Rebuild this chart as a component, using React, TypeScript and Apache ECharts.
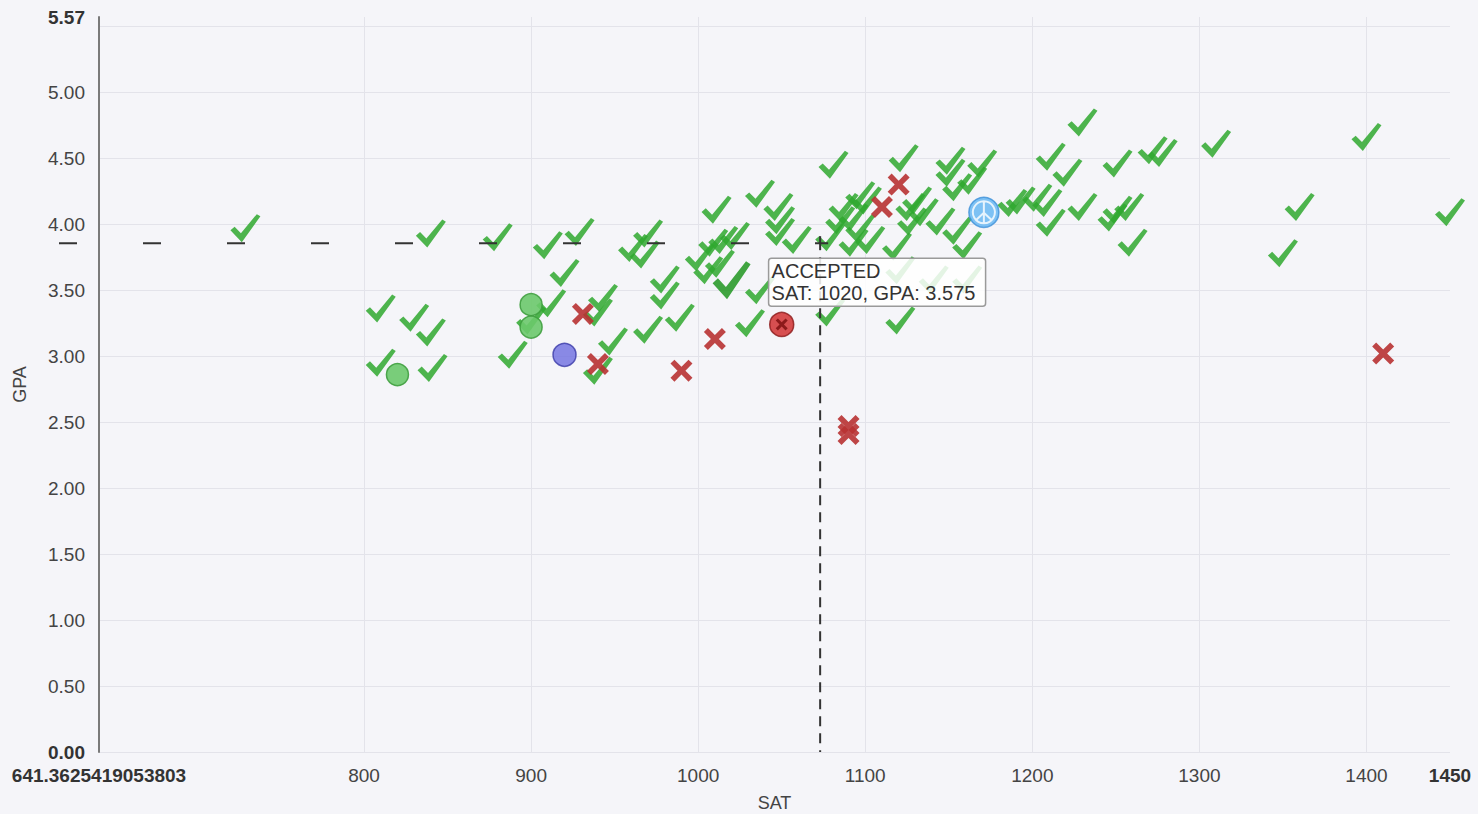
import React, { useEffect, useRef } from 'react';
import * as echarts from 'echarts';

const X_MIN = 641.3625419053803;
const X_MAX = 1450;
const Y_MIN = 0;
const Y_MAX = 5.57;
const xLabelValues = [641.3625419053803, 800, 900, 1000, 1100, 1200, 1300, 1400, 1450];
const xGridValues = [800, 900, 1000, 1100, 1200, 1300, 1400];
const yLabelValues = [0, 0.5, 1, 1.5, 2, 2.5, 3, 3.5, 4, 4.5, 5, 5.57];
const yGridValues = [0, 0.5, 1, 1.5, 2, 2.5, 3, 3.5, 4, 4.5, 5, 5.5];

const accepted: number[][] = [
  [729, 3.97], [840, 3.93], [880, 3.9], [910, 3.84], [929, 3.94], [920, 3.63],
  [810, 3.36], [830, 3.29], [840, 3.18], [810, 2.95], [841, 2.91], [889, 3.01],
  [912, 3.4], [900, 3.27], [943, 3.44], [940, 3.33], [949, 3.11], [940, 2.89],
  [970, 3.2], [989, 3.29], [980, 3.58], [980, 3.46], [961, 3.82], [970, 3.93], [968, 3.77],
  [1011, 4.11], [1001, 3.75], [1009, 3.86], [1015, 3.88], [1013, 3.7], [1022, 3.91], [1006, 3.65],
  [1037, 4.23], [1081, 4.45], [1048, 4.13], [1049, 4.03], [1049, 3.94], [1059, 3.88],
  [1123, 4.5], [1151, 4.48], [1170, 4.46], [1151, 4.39], [1155, 4.28], [1164, 4.33],
  [1087, 4.13], [1097, 4.22], [1093, 4.05], [1085, 4.03], [1097, 3.97], [1079, 3.9], [1093, 3.86], [1103, 3.88], [1119, 3.83],
  [1131, 4.18], [1135, 4.09], [1145, 4.02], [1155, 3.95], [1161, 3.84], [1188, 4.16],
  [1121, 3.27], [1079, 3.33], [1031, 3.25], [1037, 3.5], [1121, 3.65], [1141, 3.58], [1161, 3.58],
  [1101, 4.18], [1127, 4.13], [1128, 4.02],
  [1230, 4.77], [1211, 4.51], [1221, 4.39], [1193, 4.18], [1203, 4.2], [1209, 4.16], [1211, 4.01], [1230, 4.13],
  [1251, 4.46], [1272, 4.56], [1278, 4.54], [1310, 4.61], [1251, 4.11], [1258, 4.13], [1248, 4.05], [1260, 3.86],
  [1360, 4.13], [1350, 3.78], [1400, 4.66], [1450, 4.09],
];
const rejected: number[][] = [
  [931, 3.32], [940, 2.94], [990, 2.89], [1010, 3.13], [1090, 2.47], [1090, 2.41],
  [1110, 4.13], [1120, 4.3], [1410, 3.02],
];
const greenCircles: number[][] = [[900, 3.39], [900, 3.22], [820, 2.86]];
const blueCircles: number[][] = [[920, 3.01]];
const circledRejected: number[][] = [[1050, 3.24]];
const peacePoints: number[][] = [[1171, 4.09]];
const highlighted: number[][] = [[1020, 3.575]];
const crosshair = [1073, 3.856];
const tooltipLines = ['ACCEPTED', 'SAT: 1020, GPA: 3.575'];

const FONT = '"Liberation Sans", Arial, sans-serif';
const CHECK = 'path://M0,58 L14,45 L35,68 L88,0 L100,8 L38,100 Z';
const CROSS = 'path://M0,18 L18,0 L50,32 L82,0 L100,18 L68,50 L100,82 L82,100 L50,68 L18,100 L0,82 L32,50 Z';
const PEACE = 'path://M50,6 A44,44 0 1,1 49.99,6 Z M50,6 L50,94 M50,52 L19,81 M50,52 L81,81';

export default function App() {
  const ref = useRef<HTMLDivElement>(null);
  useEffect(() => {
    if (!ref.current) return;
    const chart = echarts.init(ref.current, null, { renderer: 'svg' });
    const bold = { fontWeight: 'bold', fontSize: 19, color: '#333', fontFamily: FONT };
    chart.setOption({
      animation: false,
      backgroundColor: '#f5f5f9',
      grid: { left: 99, right: 28, top: 17, bottom: 62, containLabel: false, outerBoundsMode: 'none' },
      xAxis: {
        type: 'value', min: X_MIN, max: X_MAX,
        name: 'SAT', nameLocation: 'middle', nameGap: 42,
        nameTextStyle: { fontSize: 18, color: '#444', fontFamily: FONT },
        axisLine: { show: false },
        axisTick: { show: false, customValues: xGridValues },
        splitLine: { show: true, lineStyle: { color: '#e3e3ea', width: 1 } },
        axisLabel: {
          customValues: xLabelValues, margin: 14, fontSize: 19, color: '#444', fontFamily: FONT,
          formatter: (v: number) => (v === X_MIN || v === X_MAX ? '{b|' + String(v) + '}' : String(v)),
          rich: { b: bold },
        },
      },
      yAxis: {
        type: 'value', min: Y_MIN, max: Y_MAX,
        name: 'GPA', nameLocation: 'middle', nameGap: 70,
        nameTextStyle: { fontSize: 18, color: '#444', fontFamily: FONT },
        axisLine: { show: true, lineStyle: { color: '#7a7a7a', width: 2 } },
        axisTick: { show: false, customValues: yGridValues },
        splitLine: { show: true, lineStyle: { color: '#e3e3ea', width: 1 } },
        axisLabel: {
          customValues: yLabelValues, margin: 14, fontSize: 19, color: '#444', fontFamily: FONT,
          formatter: (v: number) => (v === Y_MIN || v === Y_MAX ? '{b|' + v.toFixed(2) + '}' : v.toFixed(2)),
          rich: { b: bold },
        },
      },
      series: [
        {
          name: 'Accepted', type: 'scatter', data: accepted, symbol: CHECK, symbolSize: [30, 28],
          itemStyle: { color: '#2fa82f', opacity: 0.85 }, z: 2,
        },
        {
          name: 'Rejected', type: 'scatter', data: rejected, symbol: CROSS, symbolSize: 22,
          itemStyle: { color: '#b83232', opacity: 0.9 }, z: 3,
        },
        {
          name: 'Green', type: 'scatter', data: greenCircles, symbol: 'circle', symbolSize: 22,
          itemStyle: { color: '#6cc96c', borderColor: '#3f9f3f', borderWidth: 1.5, opacity: 0.9 }, z: 3,
        },
        {
          name: 'Blue', type: 'scatter', data: blueCircles, symbol: 'circle', symbolSize: 23,
          itemStyle: { color: '#6e6ee0', borderColor: '#3a3aa8', borderWidth: 1.5 }, z: 3,
        },
        {
          name: 'CircledRejected', type: 'scatter', data: circledRejected, symbol: 'circle', symbolSize: 24,
          itemStyle: { color: '#cf2626', borderColor: '#8a1515', borderWidth: 1.5 }, z: 3,
        },
        {
          name: 'CircledRejectedX', type: 'scatter', data: circledRejected, symbol: CROSS, symbolSize: 12,
          itemStyle: { color: '#7a0d0d' }, z: 4,
        },
        {
          name: 'Peace', type: 'scatter', data: peacePoints, symbol: 'circle', symbolSize: 30,
          itemStyle: { color: '#5fb4f2', borderColor: '#3d90d8', borderWidth: 1.5 }, z: 3,
        },
        {
          name: 'PeaceSign', type: 'scatter', data: peacePoints, symbol: PEACE, symbolSize: 22,
          itemStyle: { color: 'transparent', borderColor: '#ffffff', borderWidth: 2 }, z: 4,
        },
        {
          name: 'Highlighted', type: 'scatter', data: highlighted, symbol: CHECK, symbolSize: [38, 38],
          itemStyle: { color: '#139013' }, z: 5,
        },
      ],
    });

    const c = chart.convertToPixel({ gridIndex: 0 }, crosshair) as number[];
    const origin = chart.convertToPixel({ gridIndex: 0 }, [X_MIN, Y_MIN]) as number[];
    const h = chart.convertToPixel({ gridIndex: 0 }, highlighted[0]) as number[];
    const lineStyle = { stroke: '#333', lineWidth: 2 };
    chart.setOption({
      graphic: [
        { type: 'line', z: 50, shape: { x1: origin[0] - 40, y1: c[1], x2: c[0] + 8, y2: c[1] }, style: { ...lineStyle, lineDash: [18, 66] } },
        { type: 'line', z: 50, shape: { x1: c[0], y1: c[1] - 7, x2: c[0], y2: c[1] + 7 }, style: { ...lineStyle } },
        { type: 'line', z: 50, shape: { x1: c[0], y1: c[1] + 14, x2: c[0], y2: origin[1] }, style: { ...lineStyle, lineDash: [10, 7] } },
        {
          type: 'group', x: h[0] + 37, y: h[1] - 22, z: 100,
          children: [
            { type: 'rect', z: 100, shape: { x: 0, y: 0, width: 217, height: 48, r: 3 }, style: { fill: 'rgba(255,255,255,0.85)', stroke: '#9a9a9a', lineWidth: 1.5 } },
            { type: 'text', z: 101, x: 3, y: 13, style: { text: tooltipLines[0], fontSize: 20, fontFamily: FONT, fill: '#333', verticalAlign: 'middle' } },
            { type: 'text', z: 101, x: 3, y: 35, style: { text: tooltipLines[1], fontSize: 20, fontFamily: FONT, fill: '#333', verticalAlign: 'middle' } },
          ],
        },
      ],
    });
    return () => chart.dispose();
  }, []);
  return <div ref={ref} style={{ position: 'fixed', left: 0, top: 0, width: 1478, height: 814 }} />;
}
